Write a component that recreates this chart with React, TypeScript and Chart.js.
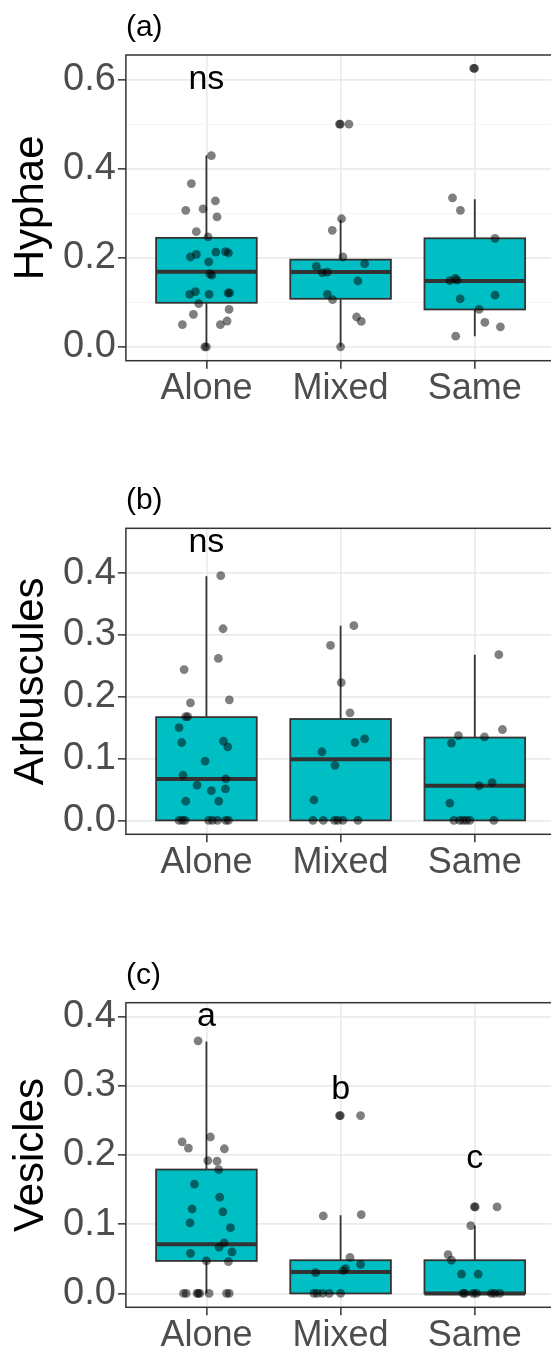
import React, { useEffect, useRef } from 'react';
import { Chart, registerables } from 'chart.js';

Chart.register(...registerables);

// ---------------- data ----------------
const categories = ['Alone', 'Mixed', 'Same'];
const panelLabels = ['(a)', '(b)', '(c)'];
const yTitles = ['Hyphae', 'Arbuscules', 'Vesicles'];

// y-axis ranges and ticks
const hyphaeRange = [-0.03125, 0.65625];
const arbRange = [-0.0225, 0.4725];
const vesRange = [-0.02, 0.42];
const hyphaeMajorTicks = [0, 0.2, 0.4, 0.6];
const hyphaeMinorTicks = [0.1, 0.3, 0.5];
const arbMajorTicks = [0, 0.1, 0.2, 0.3, 0.4];
const arbMinorTicks = [0.05, 0.15, 0.25, 0.35, 0.45];
const vesMajorTicks = [0, 0.1, 0.2, 0.3, 0.4];
const vesMinorTicks = [0.05, 0.15, 0.25, 0.35];

// box statistics per category: [lower whisker, Q1, median, Q3, upper whisker]
const hyphaeBoxes = [
  [0, 0.099, 0.169, 0.245, 0.43],
  [0, 0.108, 0.168, 0.196, 0.286],
  [0.024, 0.084, 0.148, 0.244, 0.332],
];
const arbBoxes = [
  [0, 0, 0.067, 0.167, 0.395],
  [0, 0, 0.099, 0.164, 0.315],
  [0, 0, 0.056, 0.134, 0.268],
];
const vesBoxes = [
  [0, 0.047, 0.071, 0.179, 0.364],
  [0, 0, 0.031, 0.048, 0.113],
  [0, 0, 0.0, 0.048, 0.098],
];

// observations (y) and their horizontal jitter (in category units)
const hyphaeAloneY = [0.43, 0.367, 0.328, 0.307, 0.31, 0.292, 0.259, 0.247, 0.202, 0.208, 0.213, 0.214, 0.211, 0.191, 0.164, 0.161, 0.118, 0.124, 0.118, 0.121, 0.121, 0.097, 0.084, 0.073, 0.058, 0.05, 0.05, 0, 0];
const hyphaeAloneJit = [0.037, -0.112, 0.067, -0.154, -0.025, 0.079, -0.075, 0.012, -0.119, -0.075, 0.07, 0.142, 0.164, 0.017, 0.025, 0.04, -0.124, -0.082, 0.02, 0.161, 0.174, -0.057, 0.169, -0.097, 0.154, 0.104, -0.179, -0.012, 0];
const hyphaeMixedY = [0.501, 0.501, 0.501, 0.288, 0.262, 0.202, 0.187, 0.181, 0.167, 0.168, 0.148, 0.118, 0.106, 0.067, 0.057, 0];
const hyphaeMixedJit = [-0.008, -0.002, 0.062, 0.007, -0.062, 0.017, 0.179, -0.181, -0.137, -0.099, 0.129, -0.099, -0.06, 0.119, 0.154, 0];
const hyphaeSameY = [0.626, 0.626, 0.335, 0.307, 0.244, 0.149, 0.154, 0.15, 0.108, 0.116, 0.084, 0.055, 0.045, 0.024];
const hyphaeSameJit = [-0.008, -0.002, -0.166, -0.107, 0.151, -0.186, -0.146, -0.132, -0.109, 0.151, 0.032, 0.075, 0.191, -0.142];

const arbAloneY = [0.396, 0.31, 0.262, 0.244, 0.19, 0.195, 0.168, 0.168, 0.15, 0.126, 0.128, 0.119, 0.096, 0.073, 0.067, 0.057, 0.051, 0.048, 0.031, 0.031, 0, 0, 0, 0, 0, 0, 0, 0];
const arbAloneJit = [0.107, 0.124, 0.089, -0.166, -0.119, 0.171, -0.154, -0.139, -0.204, -0.184, 0.127, 0.159, -0.01, -0.174, 0.144, -0.07, 0.142, 0.037, -0.154, 0.092, -0.204, -0.179, -0.159, 0.017, 0.045, 0.082, 0.144, 0.164];
const arbMixedY = [0.315, 0.283, 0.223, 0.174, 0.132, 0.126, 0.111, 0.089, 0.033, 0, 0, 0, 0, 0, 0];
const arbMixedJit = [0.099, -0.075, 0.005, 0.07, 0.179, 0.107, -0.139, -0.042, -0.199, -0.206, -0.129, -0.045, -0.02, 0.017, 0.129];
const arbSameY = [0.268, 0.147, 0.137, 0.125, 0.135, 0.061, 0.056, 0.028, 0, 0, 0, 0, 0, 0];
const arbSameJit = [0.179, 0.206, -0.122, -0.174, 0.072, 0.129, 0.032, -0.186, -0.156, -0.112, -0.087, -0.062, -0.037, 0.142];

const vesAloneY = [0.365, 0.219, 0.21, 0.226, 0.209, 0.192, 0.191, 0.179, 0.158, 0.139, 0.122, 0.118, 0.102, 0.095, 0.073, 0.067, 0.058, 0.06, 0.047, 0.046, 0, 0, 0, 0, 0, 0, 0, 0];
const vesAloneJit = [-0.062, -0.181, -0.134, 0.03, 0.134, 0.01, 0.079, 0.092, -0.089, 0.099, -0.107, 0.122, -0.122, 0.179, 0.132, 0.094, -0.119, 0.191, 0, 0.164, -0.17, -0.15, -0.07, -0.06, -0.05, 0.02, 0.15, 0.17];
const vesMixedY = [0.257, 0.257, 0.257, 0.112, 0.114, 0.052, 0.042, 0.036, 0.033, 0.03, 0, 0, 0, 0, 0];
const vesMixedJit = [-0.008, -0.002, 0.149, -0.129, 0.154, 0.07, 0.149, 0.037, 0.02, -0.186, -0.199, -0.174, -0.134, -0.084, 0];
const vesSameY = [0.125, 0.125, 0.125, 0.098, 0.056, 0.048, 0.028, 0.028, 0, 0, 0, 0, 0, 0, 0];
const vesSameJit = [-0.003, 0.003, 0.166, -0.03, -0.199, -0.174, -0.099, 0.025, -0.087, -0.075, -0.012, 0.012, 0.124, 0.149, 0.186];

// significance annotations
const hyphaeLetters = ['ns', '', ''];
const hyphaeLetterY = [0.6, 0, 0];
const arbLetters = ['ns', '', ''];
const arbLetterY = [0.45, 0, 0];
const vesLetters = ['a', 'b', 'c'];
const vesLetterY = [0.4, 0.295, 0.195];

// ---------------- styling / layout ----------------
const FONT = '"Liberation Sans", Arial, Helvetica, sans-serif';
const CANVAS_W = 560;
const CANVAS_H = 474;
const AXIS_W = 125.9;
const AREA_RIGHT = 555.3;
const BOX_FILL = '#00BFC4';
const DARK = '#333333';
const TICK_TEXT = '#4D4D4D';

const panelTops = [0, 473, 948];
const panelPadTop = [55, 55.3, 54.7];
const panelAreaH = [305.7, 306, 304.6];

type PanelSpec = {
  range: number[];
  major: number[];
  minor: number[];
  boxes: number[][];
  ys: number[][];
  jits: number[][];
  letters: string[];
  letterY: number[];
};

const panels: PanelSpec[] = [
  {
    range: hyphaeRange, major: hyphaeMajorTicks, minor: hyphaeMinorTicks, boxes: hyphaeBoxes,
    ys: [hyphaeAloneY, hyphaeMixedY, hyphaeSameY], jits: [hyphaeAloneJit, hyphaeMixedJit, hyphaeSameJit],
    letters: hyphaeLetters, letterY: hyphaeLetterY,
  },
  {
    range: arbRange, major: arbMajorTicks, minor: arbMinorTicks, boxes: arbBoxes,
    ys: [arbAloneY, arbMixedY, arbSameY], jits: [arbAloneJit, arbMixedJit, arbSameJit],
    letters: arbLetters, letterY: arbLetterY,
  },
  {
    range: vesRange, major: vesMajorTicks, minor: vesMinorTicks, boxes: vesBoxes,
    ys: [vesAloneY, vesMixedY, vesSameY], jits: [vesAloneJit, vesMixedJit, vesSameJit],
    letters: vesLetters, letterY: vesLetterY,
  },
];

function makeChart(canvas: HTMLCanvasElement, idx: number) {
  const p = panels[idx];
  const isMinor = (v: number) => p.minor.some((m) => Math.abs(m - v) < 1e-9);

  const points: { x: number; y: number }[] = [];
  p.ys.forEach((arr, ci) => {
    arr.forEach((y, k) => points.push({ x: ci + 1 + p.jits[ci][k], y }));
  });

  const boxPlugin = {
    id: 'boxes' + idx,
    beforeDatasetsDraw(chart: any) {
      const { ctx } = chart;
      const xs = chart.scales.x;
      const ys = chart.scales.y;
      ctx.save();
      p.boxes.forEach((b, ci) => {
        const cx = xs.getPixelForValue(ci + 1);
        const l = xs.getPixelForValue(ci + 1 - 0.375);
        const r = xs.getPixelForValue(ci + 1 + 0.375);
        const [lo, q1, med, q3, hi] = b.map((v) => ys.getPixelForValue(v));
        ctx.strokeStyle = DARK;
        ctx.lineWidth = 1.8;
        ctx.beginPath();
        ctx.moveTo(cx, hi);
        ctx.lineTo(cx, q3);
        ctx.moveTo(cx, q1);
        ctx.lineTo(cx, lo);
        ctx.stroke();
        ctx.fillStyle = BOX_FILL;
        ctx.fillRect(l, q3, r - l, q1 - q3);
        ctx.strokeRect(l, q3, r - l, q1 - q3);
        ctx.lineWidth = 4;
        ctx.beginPath();
        ctx.moveTo(l, med);
        ctx.lineTo(r, med);
        ctx.stroke();
      });
      ctx.restore();
    },
    afterDatasetsDraw(chart: any) {
      const { ctx, chartArea } = chart;
      const xs = chart.scales.x;
      const ys = chart.scales.y;
      ctx.save();
      ctx.fillStyle = '#000000';
      ctx.font = `34px ${FONT}`;
      ctx.textAlign = 'center';
      ctx.textBaseline = 'middle';
      p.letters.forEach((t, ci) => {
        if (!t) return;
        ctx.fillText(t, xs.getPixelForValue(ci + 1), ys.getPixelForValue(p.letterY[ci]));
      });
      // panel border
      ctx.strokeStyle = DARK;
      ctx.lineWidth = 1.5;
      ctx.strokeRect(chartArea.left, chartArea.top, chartArea.right - chartArea.left, chartArea.bottom - chartArea.top);
      // panel tag
      ctx.font = `30px ${FONT}`;
      ctx.textAlign = 'left';
      ctx.textBaseline = 'alphabetic';
      ctx.fillText(panelLabels[idx], chartArea.left, chartArea.top - 19);
      ctx.restore();
    },
  };

  return new Chart(canvas, {
    type: 'scatter',
    data: {
      datasets: [
        {
          data: points,
          pointRadius: 4.4,
          pointHoverRadius: 4.4,
          pointBackgroundColor: 'rgba(0,0,0,0.5)',
          pointBorderWidth: 0,
          borderWidth: 0,
        },
      ],
    },
    options: {
      responsive: false,
      animation: false,
      events: [],
      layout: { padding: { top: panelPadTop[idx], left: 0, right: CANVAS_W - AREA_RIGHT, bottom: 0 } },
      plugins: { legend: { display: false }, tooltip: { enabled: false }, title: { display: false } },
      scales: {
        x: {
          type: 'linear',
          min: 0.4,
          max: 3.6,
          afterBuildTicks: (s: any) => {
            s.ticks = categories.map((_, i) => ({ value: i + 1 }));
          },
          afterFit: (s: any) => {
            s.height = CANVAS_H - panelPadTop[idx] - panelAreaH[idx];
          },
          ticks: {
            autoSkip: false,
            maxRotation: 0,
            padding: -1,
            color: TICK_TEXT,
            font: { family: FONT, size: 36 },
            callback: (v: any) => categories[Math.round(Number(v)) - 1] ?? '',
          },
          grid: { color: '#EBEBEB', lineWidth: 1.7, tickLength: 8, tickColor: DARK, tickWidth: 1.5 },
          border: { display: false },
        },
        y: {
          type: 'linear',
          min: p.range[0],
          max: p.range[1],
          afterBuildTicks: (s: any) => {
            s.ticks = [...p.major, ...p.minor].sort((a, b) => a - b).map((v) => ({ value: v }));
          },
          afterFit: (s: any) => {
            s.width = AXIS_W;
          },
          title: {
            display: true,
            text: yTitles[idx],
            color: '#000000',
            font: { family: FONT, size: 42 },
            padding: { top: 6, bottom: 0 },
          },
          ticks: {
            padding: 2,
            color: TICK_TEXT,
            font: { family: FONT, size: 38 },
            callback: (v: any) => (isMinor(Number(v)) ? '' : Number(v).toFixed(1)),
          },
          grid: {
            color: (c: any) => (c.tick && isMinor(c.tick.value) ? '#F4F4F4' : '#EBEBEB'),
            lineWidth: (c: any) => (c.tick && isMinor(c.tick.value) ? 0.9 : 1.7),
            tickLength: 8,
            tickColor: (c: any) => (c.tick && isMinor(c.tick.value) ? 'rgba(0,0,0,0)' : DARK),
            tickWidth: 1.5,
          },
          border: { display: false },
        },
      },
    } as any,
    plugins: [boxPlugin],
  });
}

export default function App() {
  const refs = [useRef<HTMLCanvasElement>(null), useRef<HTMLCanvasElement>(null), useRef<HTMLCanvasElement>(null)];

  useEffect(() => {
    const charts = refs.map((r, i) => (r.current ? makeChart(r.current, i) : null));
    return () => charts.forEach((c) => c && c.destroy());
  }, []);

  return (
    <div
      style={{
        position: 'absolute',
        left: 0,
        top: 0,
        width: 551,
        height: 1352,
        overflow: 'hidden',
        background: '#ffffff',
      }}
    >
      {refs.map((r, i) => (
        <canvas
          key={i}
          ref={r}
          width={CANVAS_W}
          height={CANVAS_H}
          style={{ position: 'absolute', left: 0, top: panelTops[i], width: CANVAS_W, height: CANVAS_H }}
        />
      ))}
    </div>
  );
}
